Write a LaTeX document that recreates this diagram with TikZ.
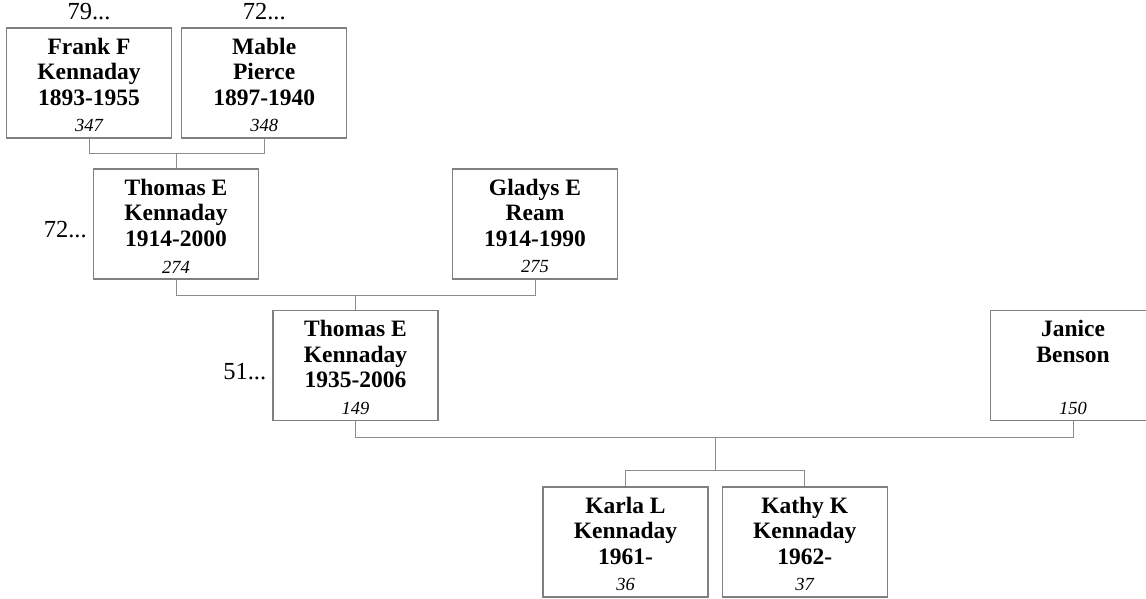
\documentclass[tikz,border=0pt]{standalone}
\usepackage{fontspec}
\setmainfont{Liberation Serif}
\usepackage{tikz}
\usetikzlibrary{positioning,calc}
\definecolor{edge}{RGB}{128,128,128}
\definecolor{wire}{RGB}{140,140,140}
\newcommand{\namefont}{\fontsize{23.5}{25.5}\selectfont\bfseries}
\newcommand{\numfont}{\fontsize{18.5}{20}\selectfont\mdseries\itshape}
\newcommand{\who}[2]{\parbox[c][98pt][t]{160pt}{\centering\namefont\rule{0pt}{20pt}#1\par\vfill{\numfont #2}}}

\begin{document}
\begin{tikzpicture}[x=1pt,y=-1pt,
 person/.style={draw=edge,line width=1.2pt,fill=white,minimum width=165pt,minimum height=110pt,inner xsep=2.5pt,inner ysep=6pt},
 note/.style={inner sep=1pt,font=\fontsize{24.5}{26}\selectfont},
 link/.style={draw=wire,line width=1pt}]
\useasboundingbox (0,0) rectangle (1146,598);
\node[person] (frank) at (89,83) {\who{Frank F\\Kennaday\\1893-1955}{347}};
\node[person,right=9pt of frank] (mable) {\who{Mable\\Pierce\\1897-1940}{348}};
\node[person] (thomA) at (176,224) {\who{Thomas E\\Kennaday\\1914-2000}{274}};
\node[person] (gladys) at (535,224) {\who{Gladys E\\Ream\\1914-1990}{275}};
\node[person] (thomB) at (355.5,365.5) {\who{Thomas E\\Kennaday\\1935-2006}{149}};
\node[person] (janice) at (1073,365.5) {\who{Janice\\Benson}{150}};
\node[person] (karla) at (625.5,542) {\who{Karla L\\Kennaday\\1961-}{36}};
\node[person,right=13pt of karla] (kathy) {\who{Kathy K\\Kennaday\\1962-}{37}};
\node[note,above=6pt of frank] (frankno) {79...};
\node[note,above=6pt of mable] (mableno) {72...};
\node[note,left=5pt of thomA,yshift=-6pt] (thomAno) {72...};
\node[note,left=5pt of thomB,yshift=-6pt] (thomBno) {51...};
\coordinate (kids) at ($(karla.north)!.5!(kathy.north)$);
\draw[link] (frank.south) -- ++(0,15) coordinate (fm) -| (mable.south);
\draw[link] (thomA.north) -- (thomA.north |- fm);
\draw[link] (thomA.south) -- ++(0,16) coordinate (tg) -| (gladys.south);
\draw[link] (thomB.north) -- (thomB.north |- tg);
\draw[link] (thomB.south) -- ++(0,16) coordinate (tj) -| (janice.south);
\draw[link] (karla.north) -- ++(0,-16) coordinate (kk) -| (kathy.north);
\draw[link] (kids |- kk) -- (kids |- tj);
\end{tikzpicture}
\end{document}
